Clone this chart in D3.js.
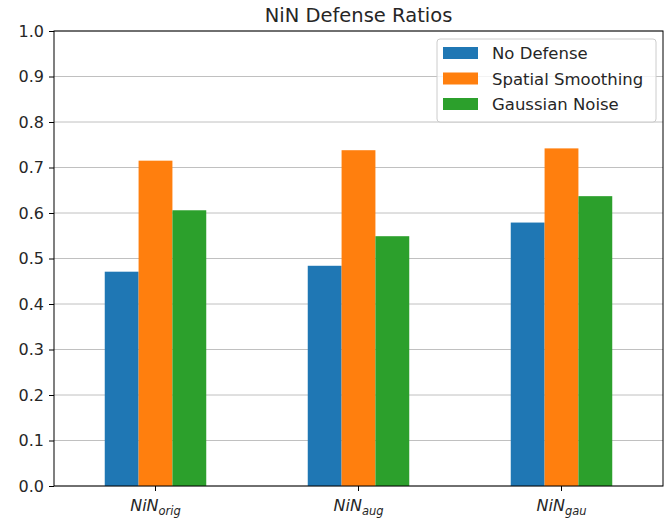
<!DOCTYPE html>
<html>
<head>
<meta charset="utf-8">
<script src="https://cdn.jsdelivr.net/npm/d3@7"></script>
<style>
  body { margin: 0; background: #fff; }
  text { font-family: "DejaVu Sans", sans-serif; fill: #262626; }
</style>
</head>
<body>
<div class="chart"></div>
<script>
// data
var models = ["orig", "aug", "gau"];
var series = ["No Defense", "Spatial Smoothing", "Gaussian Noise"];
var noDefense = [0.471, 0.484, 0.579];
var spatialSmoothing = [0.715, 0.738, 0.742];
var gaussianNoise = [0.606, 0.549, 0.637];
var yTicks = [0.0, 0.1, 0.2, 0.3, 0.4, 0.5, 0.6, 0.7, 0.8, 0.9, 1.0];
var colors = ["#1f77b4", "#ff7f0e", "#2ca02c"];

var values = [noDefense, spatialSmoothing, gaussianNoise];

// set the dimensions and margins of the graph
var margin = {top: 31, right: 9, bottom: 36, left: 54},
    width = 672 - margin.left - margin.right,
    height = 522 - margin.top - margin.bottom;

var svg = d3.select(".chart").append("svg")
    .attr("width", 672)
    .attr("height", 522);

var chart = svg.append("g")
    .attr("transform", "translate(" + margin.left + "," + margin.top + ")");

// scales
var x0 = d3.scaleBand().domain(models).range([0, width]).paddingInner(0.5).paddingOuter(0.25);
var x1 = d3.scaleBand().domain(series).range([0, x0.bandwidth()]);
var y = d3.scaleLinear().domain([0, 1]).range([height, 0]);

// grid lines
chart.append("g")
    .selectAll("line")
    .data(yTicks)
    .enter().append("line")
    .attr("x1", 0).attr("x2", width)
    .attr("y1", function(d) { return y(d); })
    .attr("y2", function(d) { return y(d); })
    .style("stroke", "#b0b0b0")
    .style("stroke-width", 0.8);

// bars
series.forEach(function(s, i) {
  chart.append("g")
      .selectAll("rect")
      .data(values[i])
      .enter().append("rect")
      .attr("x", function(d, j) { return x0(models[j]) + x1(s); })
      .attr("y", function(d) { return y(d); })
      .attr("width", x1.bandwidth())
      .attr("height", function(d) { return height - y(d); })
      .style("fill", colors[i]);
});

// y axis
var yAxis = chart.append("g")
    .call(d3.axisLeft(y).tickValues(yTicks).tickFormat(d3.format(".1f")).tickSize(5).tickPadding(5));
yAxis.selectAll("text").style("font-size", "16px").style("font-family", "DejaVu Sans").style("fill", "#262626");
yAxis.select(".domain").remove();

// x axis
var xAxis = chart.append("g")
    .attr("transform", "translate(0," + height + ")")
    .call(d3.axisBottom(x0).tickSize(5).tickFormat(""));
xAxis.select(".domain").remove();
xAxis.selectAll(".tick").append("text")
    .attr("y", 25)
    .attr("text-anchor", "middle")
    .style("font-size", "16px")
    .style("font-style", "italic")
    .style("fill", "#262626")
    .each(function(d) {
      var t = d3.select(this);
      t.append("tspan").text("NiN");
      t.append("tspan").text(d)
          .attr("dy", 4)
          .style("font-size", "11.5px");
    });

// frame
chart.append("rect")
    .attr("width", width).attr("height", height)
    .style("fill", "none")
    .style("stroke", "#000")
    .style("stroke-width", 1);

// title
svg.append("text")
    .attr("x", margin.left + width / 2)
    .attr("y", 22)
    .attr("text-anchor", "middle")
    .style("font-size", "19.5px")
    .text("NiN Defense Ratios");

// legend
var legend = chart.append("g")
    .attr("transform", "translate(" + (width - 226) + ",8)");
legend.append("rect")
    .attr("width", 219).attr("height", 83)
    .attr("rx", 3)
    .style("fill", "#fff").style("fill-opacity", 0.8)
    .style("stroke", "#cccccc");
series.forEach(function(s, i) {
  var row = legend.append("g").attr("transform", "translate(6," + (8 + i * 25.5) + ")");
  row.append("rect").attr("width", 35).attr("height", 12).style("fill", colors[i]);
  row.append("text")
      .attr("x", 49).attr("y", 12)
      .style("font-size", "16.5px")
      .text(s);
});
</script>
</body>
</html>
